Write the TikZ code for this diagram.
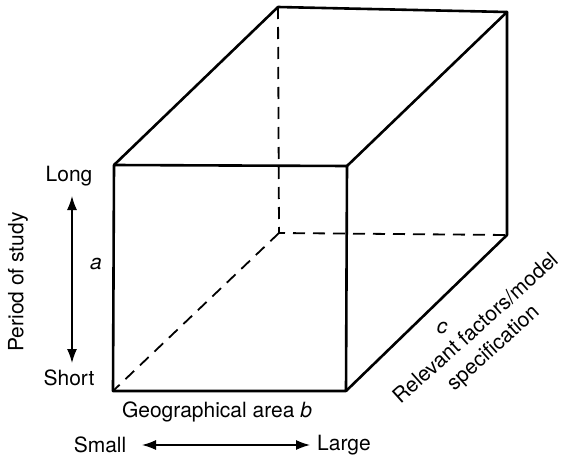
\documentclass[tikz,border=0pt]{standalone}
\usepackage{fontspec}
\setmainfont{TeX Gyre Heros}
\usetikzlibrary{arrows.meta}
\begin{document}
\begin{tikzpicture}[x=1pt,y=-1pt,
  edge/.style={line width=2.6pt,line join=round,line cap=round},
  hidden/.style={line width=1.8pt,dash pattern=on 12pt off 8pt},
  lbl/.style={font=\fontsize{21}{26}\selectfont,inner sep=0pt},
  axisarrow/.style={line width=1.3pt,{Latex[length=14pt,width=10pt]}-{Latex[length=14pt,width=10pt]}}]
  \useasboundingbox (0,0) rectangle (562,460);
  % cube corners
  \coordinate (ftl) at (114,165);
  \coordinate (ftr) at (347,166);
  \coordinate (fbr) at (346,391);
  \coordinate (fbl) at (113,391);
  \coordinate (btl) at (278,7);
  \coordinate (btr) at (507,12);
  \coordinate (bbr) at (507,235);
  \coordinate (bbl) at (279,233);
  \draw[hidden] (btl) -- (bbl) -- (bbr);
  \draw[hidden] (bbl) -- (fbl);
  \draw[edge] (ftl) -- (ftr) -- (fbr) -- (fbl) -- cycle;
  \draw[edge] (ftl) -- (btl) -- (btr) -- (ftr);
  \draw[edge] (btr) -- (bbr) -- (fbr);
  % axis a
  \node[lbl] (long) at (69,176) {Long};
  \node[lbl] (short) at (69,378) {Short};
  \node[lbl] (avar) at (96,264) {\itshape a};
  \node[lbl,rotate=90] (period) at (18,282) {Period of study};
  \coordinate (atop) at (72,196);
  \coordinate (abot) at (72,363);
  \draw[axisarrow] (atop) -- (abot);
  % axis b
  \node[lbl] (geo) at (217,412) {Geographical area \itshape b};
  \node[lbl] (small) at (100,445) {Small};
  \node[lbl] (large) at (344,445) {Large};
  \coordinate (bleft) at (142,445);
  \coordinate (bright) at (310,445);
  \draw[axisarrow] (bleft) -- (bright);
  % axis c
  \node[lbl] (cvar) at (442,328) {\itshape c};
  \node[lbl,rotate=42,align=center] (factors) at (485,339) {Relevant factors/model\\specification};
\end{tikzpicture}
\end{document}
